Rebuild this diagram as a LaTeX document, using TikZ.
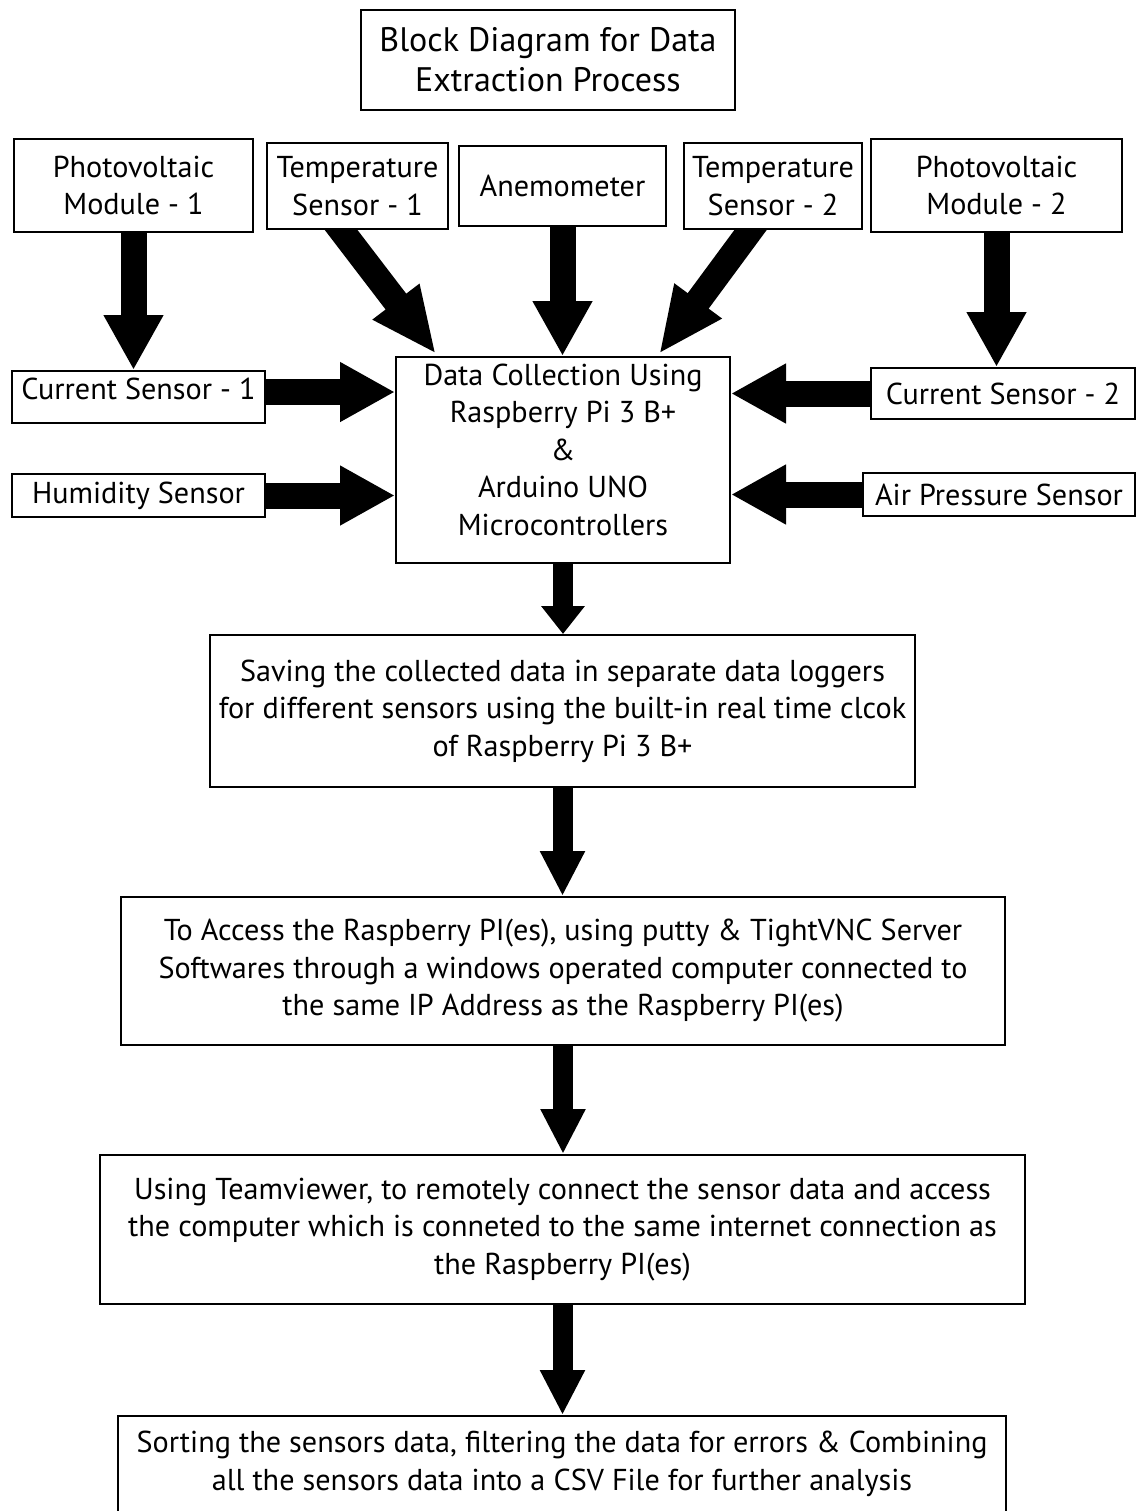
\documentclass[tikz,border=0pt]{standalone}
\usepackage{fontspec}
\setmainfont{PT Sans}
\usetikzlibrary{arrows.meta,calc}
\pgfdeclarelayer{bg}
\pgfsetlayers{bg,main}

\tikzset{
  box/.style={draw, line width=1pt, fill=white, inner sep=0pt, align=center,
              font=\fontsize{15.1}{18.75}\selectfont},
  titlebox/.style={box, font=\fontsize{17}{20}\selectfont},
  % thick block arrows feeding the data collection unit
  fat/.style={line width=13pt, -{Triangle[width=28pt 0, length=27.5pt 0]}},
  diag/.style={line width=13pt, -{Triangle[width=27pt 0, length=33pt 0]}},
  % arrows along the processing chain
  slim/.style={line width=10pt, -{Triangle[width=21pt 0, length=22.5pt 0]}},
  slimshort/.style={line width=10pt, -{Triangle[width=21pt 0, length=14pt 0]}},
}

\begin{document}
\begin{tikzpicture}[x=0.5pt, y=-0.5pt]
\useasboundingbox (0,0) rectangle (1136,1511);
\clip (0,0) rectangle (1136,1511);

% title
\node[titlebox, minimum width=187pt, minimum height=50pt] (title) at (548,60)
  {Block Diagram for Data\\Extraction Process};

% sensors on the top row
\node[box, minimum width=119.5pt, minimum height=46.5pt] (pv1) at (133.5,185.5)
  {Photovoltaic\\Module - 1};
\node[box, minimum width=90.5pt, minimum height=43pt] (t1) at (357.5,186)
  {Temperature\\Sensor - 1};
\node[box, minimum width=103.5pt, minimum height=40pt] (anem) at (562.5,186)
  {Anemometer};
\node[box, minimum width=89pt, minimum height=43pt] (t2) at (773,186)
  {Temperature\\Sensor - 2};
\node[box, minimum width=125.5pt, minimum height=46.5pt] (pv2) at (996.5,185.5)
  {Photovoltaic\\Module - 2};

% side sensors
\node[box, minimum width=126.5pt, minimum height=26pt] (cs1) at (138.5,397)
  {\raisebox{4pt}[\height][\depth]{Current Sensor - 1}};
\node[box, minimum width=126.5pt, minimum height=21.5pt] (hum) at (138.5,495.5)
  {Humidity Sensor};
\node[box, minimum width=132pt, minimum height=25.5pt] (cs2) at (1003,393.5)
  {Current Sensor - 2};
\node[box, minimum width=136pt, minimum height=21.5pt] (air) at (999,494.5)
  {Air Pressure Sensor};

% data collection unit
\node[box, minimum width=167pt, minimum height=103pt] (dc) at (563,460)
  {Data Collection Using\\Raspberry Pi 3 B+\\\&\\Arduino UNO\\Microcontrollers\\[-8pt]};

% processing chain
\node[box, minimum width=352.5pt, minimum height=76pt] (save) at (562.5,711)
  {Saving the collected data in separate data loggers\\
   for different sensors using the built-in real time clcok\\
   of Raspberry Pi 3 B+};
\node[box, minimum width=442pt, minimum height=74pt] (access) at (563,971)
  {To Access the Raspberry PI(es), using putty \& TightVNC Server\\
   Softwares through a windows operated computer connected to\\
   the same IP Address as the Raspberry PI(es)};
\node[box, minimum width=462.5pt, minimum height=74.5pt] (team) at (562.5,1229.5)
  {Using Teamviewer, to remotely connect the sensor data and access\\
   the computer which is conneted to the same internet connection as\\
   the Raspberry PI(es)};
\node[box, minimum width=444pt, minimum height=48pt] (sort) at (562,1464)
  {Sorting the sensors data, filtering the data for errors \& Combining\\
   all the sensors data into a CSV File for further analysis};

\coordinate (c1) at ($(cs1.east)+(0,-5)$);

\begin{pgfonlayer}{bg}
  \draw[fat] (pv1.south) -- (pv1.south |- cs1.north);
  \draw[fat] (pv2.south) -- (pv2.south |- cs2.north);
  \draw[fat] (anem.south) -- (anem.south |- dc.north);
  \draw[diag] ($(t1)+(-50,0)$) -- ($(dc.north west)+(41,-2)$);
  \draw[diag] ($(t2)+(10,0)$) -- ($(dc.north east)+(-72,-2)$);
  \draw[fat] (c1) -- (c1 -| dc.west);
  \draw[fat] (hum.east) -- (hum.east -| dc.west);
  \draw[fat] (cs2.west) -- (cs2.west -| dc.east);
  \draw[fat] (air.west) -- (air.west -| dc.east);
  \draw[slimshort] (dc.south) -- (dc.south |- save.north);
  \draw[slim] (save.south) -- (save.south |- access.north);
  \draw[slim] (access.south) -- (access.south |- team.north);
  \draw[slim] (team.south) -- (team.south |- sort.north);
\end{pgfonlayer}
\end{tikzpicture}
\end{document}
